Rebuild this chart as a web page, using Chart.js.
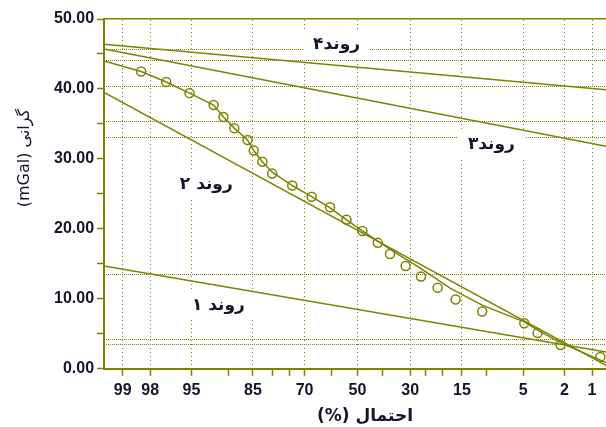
<!DOCTYPE html>
<html>
<head>
<meta charset="utf-8">
<script src="https://cdn.jsdelivr.net/npm/chart.js@4.4.0/dist/chart.umd.min.js"></script>
<style>
  html, body { margin: 0; padding: 0; background: #fff; }
</style>
</head>
<body>
<canvas id="probChart" width="606" height="427"></canvas>
<script>
// probability (%) axis, from 99 on the left to 1 on the right
const xMaxPercent = 99.4;
const xMinPercent = 0.685;
const xTickPercents = [99, 98, 95, 90, 85, 80, 75, 70, 60, 50, 40, 30, 25, 20, 15, 10, 5, 2, 1];
const xLabelled = [99, 98, 95, 85, 70, 50, 30, 15, 5, 2, 1];

// dotted reference levels (mGal)
const yGridValues = [45.7, 44.1, 40.4, 35.4, 33.1, 13.5, 4.2, 3.5];

// observed gravity samples
const samplePercent = [98.4, 97.1, 95.2, 92.3, 90.8, 88.9, 86.2, 84.8, 82.7, 80.1, 74.1, 67.5, 60.7,
  54.3, 48.0, 42.0, 37.3, 31.6, 26.4, 21.3, 16.5, 10.8, 4.9, 3.7, 2.2, 0.8];
const sampleGravity = [42.5, 41.0, 39.4, 37.7, 36.0, 34.4, 32.7, 31.2, 29.6, 27.9, 26.2, 24.6, 23.1,
  21.3, 19.7, 18.0, 16.4, 14.7, 13.2, 11.6, 9.9, 8.2, 6.5, 5.1, 3.4, 1.7];

// fitted curve through the samples
const curvePercent = [99.4, 98.4, 97.1, 95.2, 92.3, 90.8, 88.9, 86.2, 84.8, 82.7, 80.1, 74.1, 67.5,
  60.7, 54.3, 48.0, 36.1, 26.6, 17.8, 10.8, 4.9, 3.5, 2.1, 0.685];
const curveGravity = [44.0, 42.5, 41.0, 39.4, 37.7, 36.0, 34.4, 32.7, 31.2, 29.6, 28.1, 26.2, 24.6,
  23.0, 21.3, 19.7, 16.8, 14.4, 11.5, 9.1, 6.7, 5.3, 3.6, 0.9];

// straight trends: value at the left edge (xMaxPercent) and right edge (xMinPercent)
const trendNames = ['روند ۱', 'روند ۲', 'روند۳', 'روند۴'];
const trendLeft = [14.7, 39.5, 45.7, 46.4];
const trendRight = [2.4, 0.5, 31.8, 39.9];

const olive = '#808000';
const textColor = '#14142a';

// inverse normal (percent -> z)
function probit(pct) {
  const p = pct / 100;
  const q = p < 0.5 ? p : 1 - p;
  const t = Math.sqrt(-2 * Math.log(q));
  const z = t - (2.515517 + 0.802853 * t + 0.010328 * t * t) /
    (1 + 1.432788 * t + 0.189269 * t * t + 0.001308 * t * t * t);
  return p < 0.5 ? -z : z;
}

// one olive dot per w x h cell, used as a stroke style for dotted grid lines
function dotPattern(w, h) {
  const c = document.createElement('canvas');
  c.width = w;
  c.height = h;
  const g = c.getContext('2d');
  g.fillStyle = olive;
  g.fillRect(0, 0, 1, 1);
  return g.createPattern(c, 'repeat');
}

const toPoints = (ps, gs) => ps.map((p, i) => ({ x: probit(p), y: gs[i] }));

const datasets = [];
trendNames.forEach((name, i) => {
  datasets.push({
    label: name,
    data: toPoints([xMaxPercent, xMinPercent], [trendLeft[i], trendRight[i]]),
    showLine: true,
    borderColor: olive,
    borderWidth: 1.5,
    pointRadius: 0
  });
});
datasets.push({
  label: 'curve',
  data: toPoints(curvePercent, curveGravity),
  showLine: true,
  borderColor: olive,
  borderWidth: 1.5,
  pointRadius: 0
});
datasets.push({
  label: 'samples',
  data: toPoints(samplePercent, sampleGravity),
  showLine: false,
  pointStyle: 'circle',
  pointRadius: 4.5,
  pointBorderWidth: 1.5,
  pointBorderColor: olive,
  pointBackgroundColor: 'rgba(0,0,0,0)'
});

// where the trend names sit (probability %, mGal)
const labelAnchors = [
  { text: trendNames[3], p: 58.2, g: 46.3 },
  { text: trendNames[2], p: 9.2, g: 32.0 },
  { text: trendNames[1], p: 93.3, g: 26.4 },
  { text: trendNames[0], p: 91.6, g: 9.1 }
];

const annotations = {
  id: 'annotations',
  beforeDatasetsDraw(chart) {
    const { ctx, scales: { x, y } } = chart;
    ctx.save();
    ctx.font = 'bold 17px "DejaVu Sans"';
    ctx.textAlign = 'center';
    ctx.textBaseline = 'middle';
    ctx.direction = 'rtl';
    labelAnchors.forEach(a => {
      const px = x.getPixelForValue(probit(a.p));
      const py = y.getPixelForValue(a.g);
      const w = ctx.measureText(a.text).width + 20;
      ctx.fillStyle = '#fff';
      ctx.fillRect(px - w / 2, py - 13, w, 26);
      ctx.fillStyle = textColor;
      ctx.fillText(a.text, px, py);
    });
    ctx.restore();
  },
  afterDraw(chart) {
    const { ctx, chartArea } = chart;
    ctx.save();
    ctx.fillStyle = textColor;
    ctx.textAlign = 'center';
    ctx.textBaseline = 'middle';
    ctx.direction = 'rtl';
    ctx.font = 'bold 17px "DejaVu Sans"';
    ctx.fillText('احتمال (%)', (chartArea.left + chartArea.right) / 2 + 10, 417);
    ctx.translate(25, chartArea.top + 139);
    ctx.rotate(-Math.PI / 2);
    ctx.font = '16px "DejaVu Sans"';
    ctx.fillText('گرانی (mGal)', 0, 0);
    ctx.restore();
  }
};

Chart.defaults.font.family = '"Liberation Sans", Arial, sans-serif';
Chart.defaults.font.size = 16;
Chart.defaults.font.weight = 'bold';
Chart.defaults.color = textColor;

new Chart(document.getElementById('probChart'), {
  type: 'scatter',
  data: { datasets: datasets },
  options: {
    responsive: false,
    animation: false,
    layout: { autoPadding: false, padding: { left: 51, top: 19, right: 0, bottom: 22 } },
    plugins: { legend: { display: false }, tooltip: { enabled: false } },
    scales: {
      x: {
        type: 'linear',
        reverse: true,
        min: probit(xMinPercent),
        max: probit(xMaxPercent),
        afterBuildTicks: s => { s.ticks = xTickPercents.map(p => ({ value: probit(p) })); },
        ticks: {
          autoSkip: false,
          maxRotation: 0,
          padding: 5,
          callback: (v, i) => xLabelled.includes(xTickPercents[i]) ? String(xTickPercents[i]) : ''
        },
        grid: { drawOnChartArea: false, tickLength: 7, tickColor: olive, tickWidth: 1.5 },
        border: { color: olive, width: 2 }
      },
      xGrid: {
        type: 'linear',
        position: 'bottom',
        reverse: true,
        min: probit(xMinPercent),
        max: probit(xMaxPercent),
        afterBuildTicks: s => { s.ticks = xLabelled.map(p => ({ value: probit(p) })); },
        ticks: { display: false },
        grid: { color: dotPattern(1, 4), lineWidth: 1, drawTicks: false },
        border: { display: false }
      },
      xTop: {
        type: 'linear',
        position: 'top',
        ticks: { display: false },
        grid: { display: false, drawTicks: false },
        border: { color: olive, width: 1.5 }
      },
      y: {
        min: 0,
        max: 50,
        ticks: {
          stepSize: 5,
          padding: 3,
          callback: v => v % 10 === 0 ? v.toFixed(2) : ''
        },
        grid: { drawOnChartArea: false, tickLength: 7, tickColor: olive, tickWidth: 1.5 },
        border: { color: olive, width: 2 }
      },
      yGrid: {
        type: 'linear',
        position: 'left',
        min: 0,
        max: 50,
        afterBuildTicks: s => { s.ticks = yGridValues.map(v => ({ value: v })); },
        ticks: { display: false },
        grid: { color: olive, lineWidth: 1, drawTicks: false },
        border: { display: false, dash: [1, 1] }
      }
    }
  },
  plugins: [annotations]
});
</script>
</body>
</html>
